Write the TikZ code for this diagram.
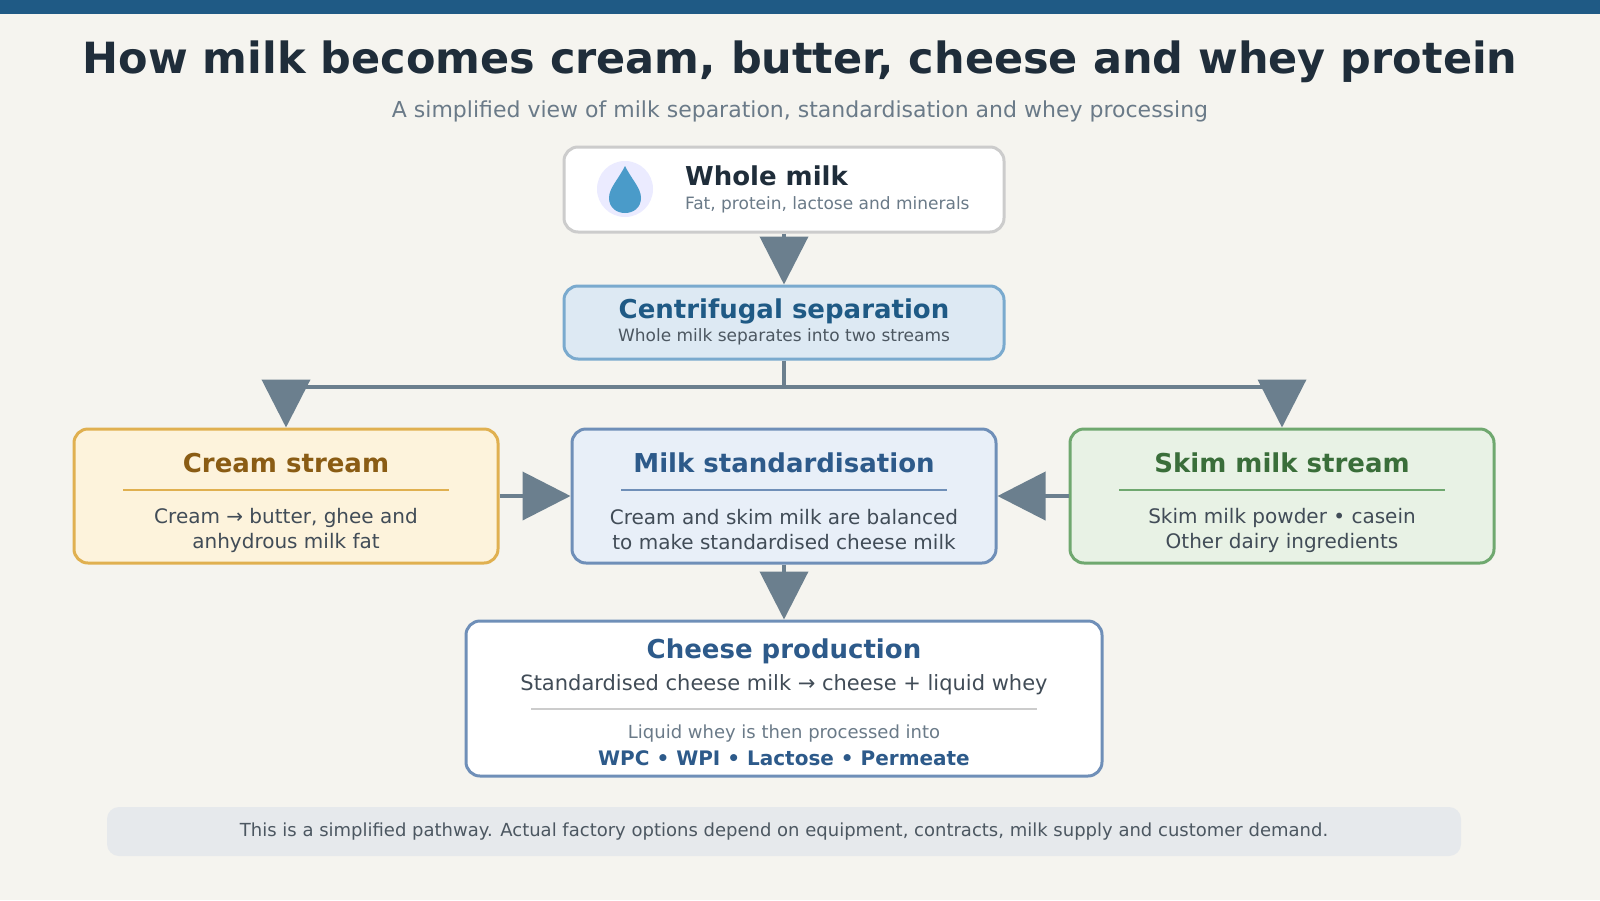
\documentclass[tikz,border=0pt]{standalone}
\usepackage{fontspec}
\setmainfont{DejaVu Sans}
\usetikzlibrary{arrows.meta}
\definecolor{bg}{HTML}{F5F4EF}
\definecolor{bar}{HTML}{1F5A85}
\definecolor{ink}{HTML}{1F2D3A}
\definecolor{sub}{HTML}{6A7A88}
\definecolor{arr}{HTML}{6B7F8E}
\definecolor{bluet}{HTML}{2D5A8A}
\definecolor{drop}{HTML}{4A9BC9}
\definecolor{centd}{HTML}{7AAACE}
\definecolor{centf}{HTML}{DDE9F3}
\definecolor{crd}{HTML}{E0B050}
\definecolor{crf}{HTML}{FDF3DC}
\definecolor{crt}{HTML}{8A5C14}
\definecolor{std}{HTML}{6F8FB8}
\definecolor{stf}{HTML}{E8EFF8}
\definecolor{skd}{HTML}{6FA86F}
\definecolor{skf}{HTML}{E8F2E5}
\definecolor{skt}{HTML}{3A6E3A}
\definecolor{footf}{HTML}{E6E9EC}
\begin{document}
\begin{tikzpicture}[x=0.5pt,y=-0.5pt,
  box/.style={draw,rounded corners=7pt,line width=1.5pt,inner sep=0pt},
  conn/.style={draw=arr,line width=2pt,-{Triangle[width=24pt,length=24pt]}},
  ttl/.style={font=\bfseries\fontsize{13}{15}\selectfont},
  body/.style={font=\fontsize{10}{12.5}\selectfont,text=ink!85,align=center}]
\fill[bg] (0,0) rectangle (1600,900);
\useasboundingbox (0,0) rectangle (1600,900);
\fill[bar] (0,0) rectangle (1600,14);
\node[text=ink,font=\bfseries\fontsize{21.5}{24}\selectfont] (title) at (800,62) {How milk becomes cream, butter, cheese and whey protein};
\node[text=sub,font=\fontsize{11}{13}\selectfont] (subt) at (800,111) {A simplified view of milk separation, standardisation and whey processing};
% whole milk
\node[box,draw=black!20,fill=white,minimum width=220pt,minimum height=42.5pt] (whole) at (784,189.5) {};
\node[circle,fill=blue!8,minimum size=28pt,inner sep=0pt] (ic) at (625,189) {};
\fill[drop] (625,166) .. controls (618,180) and (609,188) .. (609,198) .. controls (609,208) and (617,213) .. (625,213) .. controls (633,213) and (641,208) .. (641,198) .. controls (641,188) and (632,180) .. (625,166) -- cycle;
\node[anchor=west,text=ink,font=\bfseries\fontsize{13}{15}\selectfont] (wt) at (678,176) {Whole milk};
\node[anchor=west,text=sub,font=\fontsize{8.5}{10}\selectfont] (ws) at (678,205) {Fat, protein, lactose and minerals};
% centrifugal
\node[box,draw=centd,fill=centf,minimum width=220pt,minimum height=36.5pt] (cent) at (784,322.5) {};
\node[ttl,text=bar] (ct) at (784,311) {Centrifugal separation};
\node[text=ink!80,font=\fontsize{8.5}{10}\selectfont] (cs) at (784,337) {Whole milk separates into two streams};
% three boxes
\node[box,draw=crd,fill=crf,minimum width=212pt,minimum height=67pt] (cream) at (286,496) {};
\node[box,draw=std,fill=stf,minimum width=212pt,minimum height=67pt] (stdz) at (784,496) {};
\node[box,draw=skd,fill=skf,minimum width=212pt,minimum height=67pt] (skim) at (1282,496) {};
\node[ttl,text=crt] (crtt) at (286,463) {Cream stream};
\draw[crd,line width=0.6pt] (123,490) -- (449,490);
\node[body] (crb) at (286,530) {Cream → butter, ghee and\\anhydrous milk fat};
\node[ttl,text=bluet] (stt) at (784,463) {Milk standardisation};
\draw[std,line width=0.6pt] (621,490) -- (947,490);
\node[body] (stb) at (784,530) {Cream and skim milk are balanced\\to make standardised cheese milk};
\node[ttl,text=skt] (sktt) at (1282,463) {Skim milk stream};
\draw[skd,line width=0.6pt] (1119,490) -- (1445,490);
\node[body] (skb) at (1282,530) {Skim milk powder • casein\\Other dairy ingredients};
% cheese
\node[box,draw=std,fill=white,minimum width=318pt,minimum height=77.5pt] (cheese) at (784,698.5) {};
\node[ttl,text=bluet] (cht) at (784,651) {Cheese production};
\node[text=ink!85,font=\fontsize{10.5}{12.5}\selectfont] (chl) at (784,685) {Standardised cheese milk → cheese + liquid whey};
\draw[black!20,line width=0.6pt] (531,709) -- (1037,709);
\node[text=sub,font=\fontsize{9}{11}\selectfont] (chw) at (784,734) {Liquid whey is then processed into};
\node[text=bluet,font=\bfseries\fontsize{10}{12}\selectfont] (chp) at (784,758) {WPC • WPI • Lactose • Permeate};
% footer
\node[fill=footf,rounded corners=6pt,minimum width=677pt,minimum height=24.5pt,inner sep=0pt,text=ink!80,font=\fontsize{9}{11}\selectfont] (foot) at (784,831.5) {This is a simplified pathway. Actual factory options depend on equipment, contracts, milk supply and customer demand.};
% connectors
\coordinate (j) at (784,387);
\draw[conn] (whole.south) -- (cent.north);
\draw[draw=arr,line width=2pt] (cent.south) -- (j);
\draw[conn] (j) -| (cream.north);
\draw[conn] (j) -| (skim.north);
\draw[conn] (cream.east) -- (stdz.west);
\draw[conn] (skim.west) -- (stdz.east);
\draw[conn] (stdz.south) -- (cheese.north);
\end{tikzpicture}
\end{document}
